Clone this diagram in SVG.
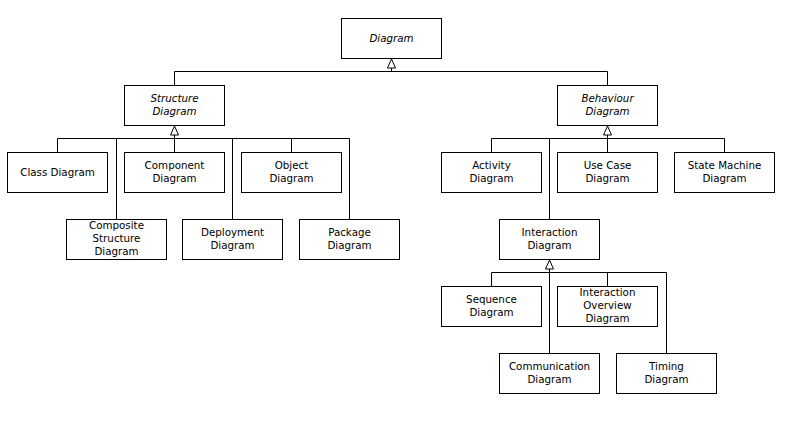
<svg xmlns="http://www.w3.org/2000/svg" width="804" height="435" viewBox="0 0 804 435">
<style>
.box{fill:#fff;stroke:#000;stroke-width:1}
.t{font-family:"DejaVu Sans",sans-serif;font-size:10.3px;fill:#000;text-anchor:middle}
.i{font-style:italic}
.c{fill:none;stroke:#000;stroke-width:1}
</style>
<defs>
<marker id="gen" viewBox="0 0 10 9" refX="10" refY="4.5" markerWidth="10" markerHeight="9" markerUnits="userSpaceOnUse" orient="auto">
<path d="M0.5,0.5 L9.5,4.5 L0.5,8.5 z" fill="#fff" stroke="#000" stroke-width="1"/>
</marker>
</defs>
<rect width="804" height="435" fill="#fff"/>
<g id="connectors">
<path class="c" d="M174.5,85 V71.5 H607.5 V85"/>
<path class="c" d="M391.5,71.5 V58.5" marker-end="url(#gen)"/>
<path class="c" d="M57.5,152 V138.5 H349.5 V219 M116.5,138.5 V219 M232.5,138.5 V219 M291.5,138.5 V152 M174.5,138.5 V152"/>
<path class="c" d="M174.5,138.5 V125.5" marker-end="url(#gen)"/>
<path class="c" d="M491.5,152 V138.5 H724.5 V152 M549.5,138.5 V219 M607.5,138.5 V152"/>
<path class="c" d="M607.5,138.5 V125.5" marker-end="url(#gen)"/>
<path class="c" d="M491.5,286 V272.5 H666.5 V353 M607.5,272.5 V286 M549.5,272.5 V353"/>
<path class="c" d="M549.5,272.5 V259.5" marker-end="url(#gen)"/>
</g>
<g id="diagram"><rect class="box" x="341.5" y="18.5" width="100" height="40"/><text class="t i" x="391.5" y="42">Diagram</text></g>
<g id="structure"><rect class="box" x="124.5" y="85.5" width="100" height="40"/><text class="t i" x="174.5" y="102">Structure</text><text class="t i" x="174.5" y="115">Diagram</text></g>
<g id="behaviour"><rect class="box" x="557.5" y="85.5" width="100" height="40"/><text class="t i" x="607.5" y="102">Behaviour</text><text class="t i" x="607.5" y="115">Diagram</text></g>
<g id="class"><rect class="box" x="7.5" y="152.5" width="100" height="40"/><text class="t" x="57.5" y="175.5">Class Diagram</text></g>
<g id="component"><rect class="box" x="124.5" y="152.5" width="100" height="40"/><text class="t" x="174.5" y="168.5">Component</text><text class="t" x="174.5" y="181.5">Diagram</text></g>
<g id="object"><rect class="box" x="241.5" y="152.5" width="100" height="40"/><text class="t" x="291.5" y="168.5">Object</text><text class="t" x="291.5" y="181.5">Diagram</text></g>
<g id="composite"><rect class="box" x="66.5" y="219.5" width="100" height="40"/><text class="t" x="116.5" y="229">Composite</text><text class="t" x="116.5" y="242">Structure</text><text class="t" x="116.5" y="255">Diagram</text></g>
<g id="deployment"><rect class="box" x="182.5" y="219.5" width="100" height="40"/><text class="t" x="232.5" y="235.5">Deployment</text><text class="t" x="232.5" y="248.5">Diagram</text></g>
<g id="package"><rect class="box" x="299.5" y="219.5" width="100" height="40"/><text class="t" x="349.5" y="235.5">Package</text><text class="t" x="349.5" y="248.5">Diagram</text></g>
<g id="activity"><rect class="box" x="441.5" y="152.5" width="100" height="40"/><text class="t" x="491.5" y="168.5">Activity</text><text class="t" x="491.5" y="181.5">Diagram</text></g>
<g id="usecase"><rect class="box" x="557.5" y="152.5" width="100" height="40"/><text class="t" x="607.5" y="168.5">Use Case</text><text class="t" x="607.5" y="181.5">Diagram</text></g>
<g id="statemachine"><rect class="box" x="674.5" y="152.5" width="100" height="40"/><text class="t" x="724.5" y="168.5">State Machine</text><text class="t" x="724.5" y="181.5">Diagram</text></g>
<g id="interaction"><rect class="box" x="499.5" y="219.5" width="100" height="40"/><text class="t" x="549.5" y="235.5">Interaction</text><text class="t" x="549.5" y="248.5">Diagram</text></g>
<g id="sequence"><rect class="box" x="441.5" y="286.5" width="100" height="40"/><text class="t" x="491.5" y="302.5">Sequence</text><text class="t" x="491.5" y="315.5">Diagram</text></g>
<g id="overview"><rect class="box" x="557.5" y="286.5" width="100" height="40"/><text class="t" x="607.5" y="296">Interaction</text><text class="t" x="607.5" y="309">Overview</text><text class="t" x="607.5" y="322">Diagram</text></g>
<g id="communication"><rect class="box" x="499.5" y="353.5" width="100" height="40"/><text class="t" x="549.5" y="369.5">Communication</text><text class="t" x="549.5" y="382.5">Diagram</text></g>
<g id="timing"><rect class="box" x="616.5" y="353.5" width="100" height="40"/><text class="t" x="666.5" y="369.5">Timing</text><text class="t" x="666.5" y="382.5">Diagram</text></g>
</svg>
